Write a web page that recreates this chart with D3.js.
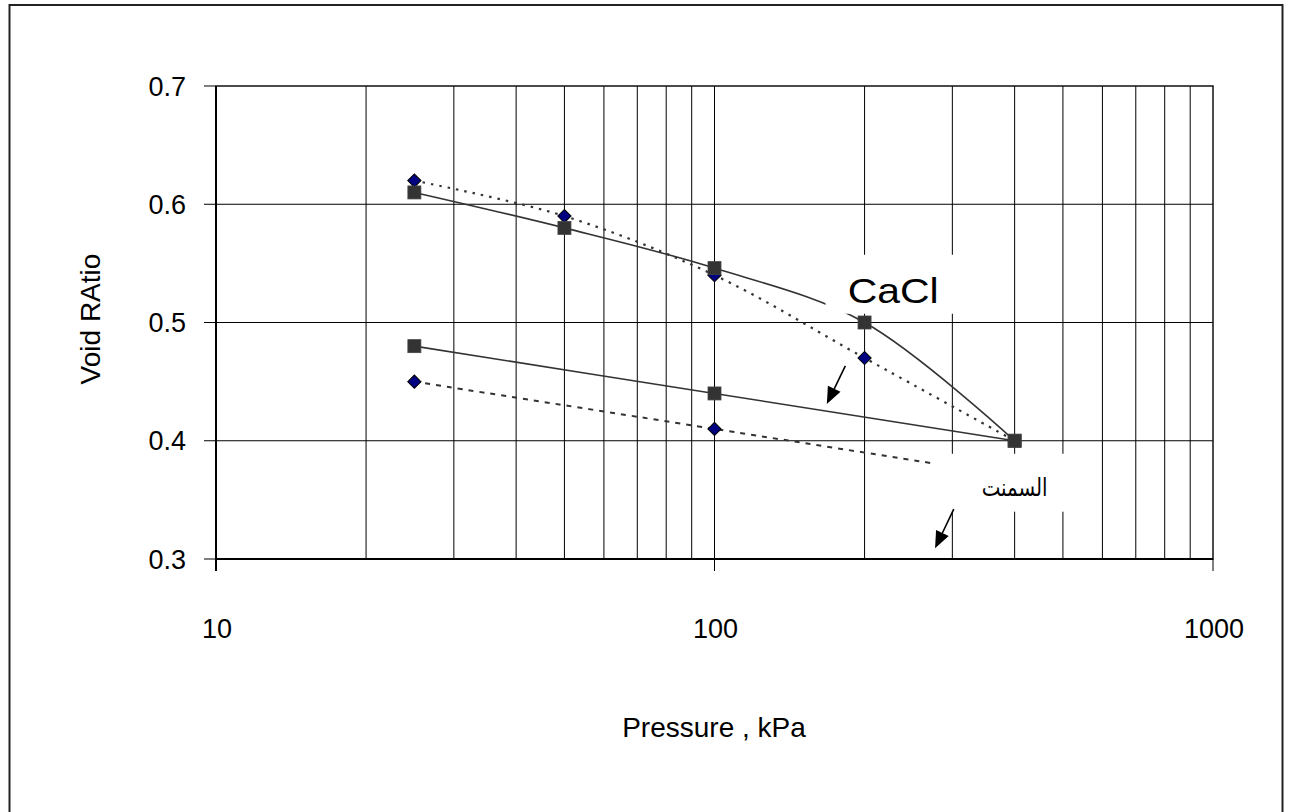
<!DOCTYPE html>
<html>
<head>
<meta charset="utf-8">
<script src="https://cdn.jsdelivr.net/npm/d3@7"></script>
<style>
  body { margin: 0; background: #fff; }
  text { font-family: "Liberation Sans", Arial, sans-serif; fill: #000; }
</style>
</head>
<body>
<svg id="chart" width="1289" height="812"></svg>
<script>
// data
const pressureA = [25, 50, 100, 200, 400];
const voidSquareA = [0.61, 0.58, 0.546, 0.50, 0.40];
const voidDiamondA = [0.62, 0.59, 0.54, 0.47, 0.40];
const pressureB = [25, 100, 400];
const voidSquareB = [0.48, 0.44, 0.40];
const voidDiamondB = [0.45, 0.41, 0.37];

const xTickLabels = [10, 100, 1000];
const yTickLabels = [0.3, 0.4, 0.5, 0.6, 0.7];

// annotations, in data units
const labelBoxes = [
  { x0: 167, x1: 326, y0: 0.5573, y1: 0.5074 },
  { x0: 274, x1: 554, y0: 0.389, y1: 0.340 }
];
const arrows = [
  { from: [183, 0.4634], to: [168, 0.431] },
  { from: [302, 0.3422], to: [277, 0.309] }
];

var svg = d3.select("#chart"),
  width = +svg.attr("width"),
  height = +svg.attr("height");

var plotLeft = 216, plotRight = 1213, plotTop = 86, plotBottom = 559;

var x = d3.scaleLog().domain([10, 1000]).range([plotLeft, plotRight]);
var y = d3.scaleLinear().domain([0.3, 0.7]).range([plotBottom, plotTop]);

// outer frame (runs past the bottom edge like the original)
svg.append("rect")
  .attr("x", 9.5).attr("y", 5)
  .attr("width", 1273).attr("height", 840)
  .attr("fill", "none")
  .attr("stroke", "#222")
  .attr("stroke-width", 2);

// grid
var grid = svg.append("g");
grid.selectAll(".vg")
  .data(x.ticks().filter(d => d > 10 && d < 1000))
  .enter().append("line")
  .attr("x1", d => x(d)).attr("x2", d => x(d))
  .attr("y1", plotTop).attr("y2", plotBottom)
  .attr("stroke", "#000").attr("stroke-width", 1);
grid.selectAll(".hg")
  .data(yTickLabels.filter(d => d > 0.3 && d < 0.7))
  .enter().append("line")
  .attr("x1", plotLeft).attr("x2", plotRight)
  .attr("y1", d => y(d)).attr("y2", d => y(d))
  .attr("stroke", "#000").attr("stroke-width", 1);

// plot frame
svg.append("rect")
  .attr("x", plotLeft).attr("y", plotTop)
  .attr("width", plotRight - plotLeft).attr("height", plotBottom - plotTop)
  .attr("fill", "none").attr("stroke", "#111").attr("stroke-width", 1.5);

// axes
svg.append("line").attr("x1", plotLeft).attr("x2", plotLeft)
  .attr("y1", plotTop).attr("y2", plotBottom + 12)
  .attr("stroke", "#000").attr("stroke-width", 2);
svg.append("line").attr("x1", plotLeft).attr("x2", plotRight)
  .attr("y1", plotBottom).attr("y2", plotBottom)
  .attr("stroke", "#000").attr("stroke-width", 2);

svg.selectAll(".yt")
  .data(yTickLabels)
  .enter().append("line")
  .attr("x1", plotLeft - 12).attr("x2", plotLeft)
  .attr("y1", d => y(d)).attr("y2", d => y(d))
  .attr("stroke", "#000").attr("stroke-width", 1);
svg.selectAll(".ytl")
  .data(yTickLabels)
  .enter().append("text")
  .attr("x", 186).attr("y", d => y(d) + 9.5)
  .attr("text-anchor", "end")
  .style("font-size", "27px")
  .text(d => d.toFixed(1));

svg.selectAll(".xt")
  .data(xTickLabels)
  .enter().append("line")
  .attr("x1", d => x(d)).attr("x2", d => x(d))
  .attr("y1", plotBottom).attr("y2", plotBottom + 12)
  .attr("stroke", "#000").attr("stroke-width", 1);
svg.selectAll(".xtl")
  .data(xTickLabels)
  .enter().append("text")
  .attr("x", d => x(d) + 1).attr("y", 638)
  .attr("text-anchor", "middle")
  .style("font-size", "27px")
  .text(d => d);

svg.append("text")
  .attr("x", 714).attr("y", 737)
  .attr("text-anchor", "middle")
  .style("font-size", "28px")
  .text("Pressure , kPa");

svg.append("text")
  .attr("transform", "translate(100,319) rotate(-90)")
  .attr("text-anchor", "middle")
  .style("font-size", "28px")
  .text("Void RAtio");

// series
var line = d3.line()
  .x(d => x(d[0]))
  .y(d => y(d[1]))
  .curve(d3.curveCatmullRom.alpha(0.5));

var seriesList = [
  { px: pressureA, vy: voidDiamondA, dash: "2.5,6", w: 2.2, mark: "diamond" },
  { px: pressureB, vy: voidDiamondB, dash: "5,6", w: 2, mark: "diamond" },
  { px: pressureA, vy: voidSquareA, dash: null, w: 1.6, mark: "square" },
  { px: pressureB, vy: voidSquareB, dash: null, w: 1.6, mark: "square" }
];

seriesList.forEach(function(s) {
  var pts = s.px.map((p, i) => [p, s.vy[i]]);
  svg.append("path")
    .attr("d", line(pts))
    .attr("fill", "none")
    .attr("stroke", "#333")
    .attr("stroke-width", s.w)
    .attr("stroke-dasharray", s.dash);
});

// diamonds first, squares on top
seriesList.filter(s => s.mark == "diamond").forEach(function(s) {
  var pts = s.px.map((p, i) => [p, s.vy[i]]);
  svg.append("g").selectAll("path")
    .data(pts)
    .enter().append("path")
    .attr("d", d3.symbol().type(d3.symbolSquare).size(88))
    .attr("transform", d => "translate(" + x(d[0]) + "," + y(d[1]) + ") rotate(45)")
    .attr("fill", "#000080")
    .attr("stroke", "#000")
    .attr("stroke-width", 1);
});
seriesList.filter(s => s.mark == "square").forEach(function(s) {
  var pts = s.px.map((p, i) => [p, s.vy[i]]);
  svg.append("g").selectAll("rect")
    .data(pts)
    .enter().append("rect")
    .attr("x", d => x(d[0]) - 6.5).attr("y", d => y(d[1]) - 6.5)
    .attr("width", 13).attr("height", 13)
    .attr("fill", "#333")
    .attr("stroke", "#444")
    .attr("stroke-width", 0.8);
});

// label backgrounds
svg.selectAll(".lb")
  .data(labelBoxes)
  .enter().append("rect")
  .attr("x", d => x(d.x0)).attr("y", d => y(d.y0))
  .attr("width", d => x(d.x1) - x(d.x0))
  .attr("height", d => y(d.y1) - y(d.y0))
  .attr("fill", "#fff");

svg.append("text")
  .attr("x", x(185)).attr("y", y(0.5167))
  .attr("textLength", 91)
  .attr("lengthAdjust", "spacingAndGlyphs")
  .style("font-size", "35px")
  .text("CaCl");

svg.append("text")
  .attr("x", x(400)).attr("y", y(0.3535))
  .attr("text-anchor", "middle")
  .attr("textLength", 66)
  .attr("lengthAdjust", "spacingAndGlyphs")
  .style("font-family", "'DejaVu Sans', sans-serif")
  .style("font-size", "25px")
  .text("السمنت");

// arrows
arrows.forEach(function(a) {
  var x1 = x(a.from[0]), y1 = y(a.from[1]);
  var x2 = x(a.to[0]), y2 = y(a.to[1]);
  var ang = Math.atan2(y2 - y1, x2 - x1);
  var len = 17, hw = 7;
  var bx = x2 - len * Math.cos(ang), by = y2 - len * Math.sin(ang);
  svg.append("line")
    .attr("x1", x1).attr("y1", y1).attr("x2", bx).attr("y2", by)
    .attr("stroke", "#000").attr("stroke-width", 1.6);
  var px = -Math.sin(ang) * hw, py = Math.cos(ang) * hw;
  svg.append("path")
    .attr("d", "M" + x2 + "," + y2 + "L" + (bx + px) + "," + (by + py) + "L" + (bx - px) + "," + (by - py) + "Z")
    .attr("fill", "#000");
});
</script>
</body>
</html>
